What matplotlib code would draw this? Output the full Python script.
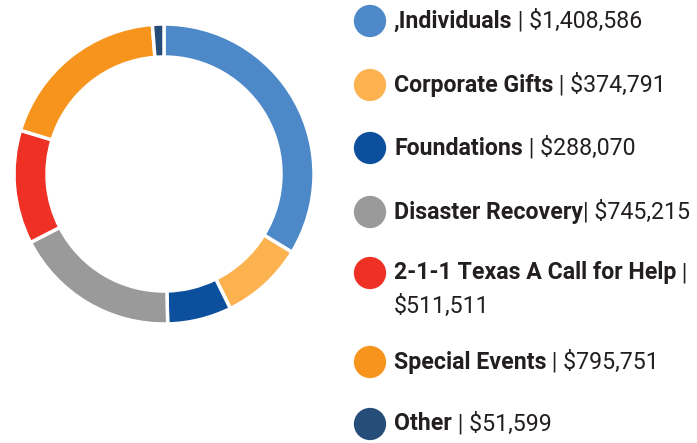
import matplotlib
matplotlib.use('Agg')
import matplotlib.pyplot as plt

# data
names = [',Individuals', 'Corporate Gifts', 'Foundations', 'Disaster Recovery',
         '2-1-1 Texas A Call for Help', 'Special Events', 'Other']
values = [1408586, 374791, 288070, 745215, 511511, 795751, 51599]
seps = [' | ', ' | ', ' | ', '| ', ' |', ' | ', ' | ']
colors = ['#4d88c9', '#fbb24f', '#0c4f9c', '#9a9a9a', '#ee3124', '#f7941d', '#264c78']

W, H = 697, 443
fig = plt.figure(figsize=(W / 100, H / 100), dpi=100)
ax = fig.add_axes([0, 0, 1, 1])

ax.pie(values, colors=colors, startangle=90, counterclock=False,
       center=(164, H - 174), radius=150,
       wedgeprops=dict(width=33, edgecolor='white', linewidth=2.5))
ax.set_xlim(0, W)
ax.set_ylim(0, H)
ax.set_aspect('equal')
ax.axis('off')

fig.canvas.draw()
r = fig.canvas.get_renderer()
txt_color = '#231f20'
fs = 16.7
row_y = [21, 85, 148, 212, 273, 362, 424]
for name, v, sep, c, y in zip(names, values, seps, colors, row_y):
    yy = H - y
    ax.scatter([370], [yy], s=540, color=c, edgecolors='none')
    t = ax.text(394, yy, name, fontsize=fs, fontweight='bold', family='Roboto',
                color=txt_color, va='center')
    bb = t.get_window_extent(r)
    val = '$' + format(v, ',')
    if name.startswith('2-1-1'):
        ax.text(bb.x1, yy, sep, fontsize=fs, family='Roboto', color=txt_color, va='center')
        ax.text(394, yy - 33, val, fontsize=fs, family='Roboto', color=txt_color, va='center')
    else:
        ax.text(bb.x1, yy, sep + val, fontsize=fs, family='Roboto', color=txt_color, va='center')

fig.savefig('out.png', dpi=100)
